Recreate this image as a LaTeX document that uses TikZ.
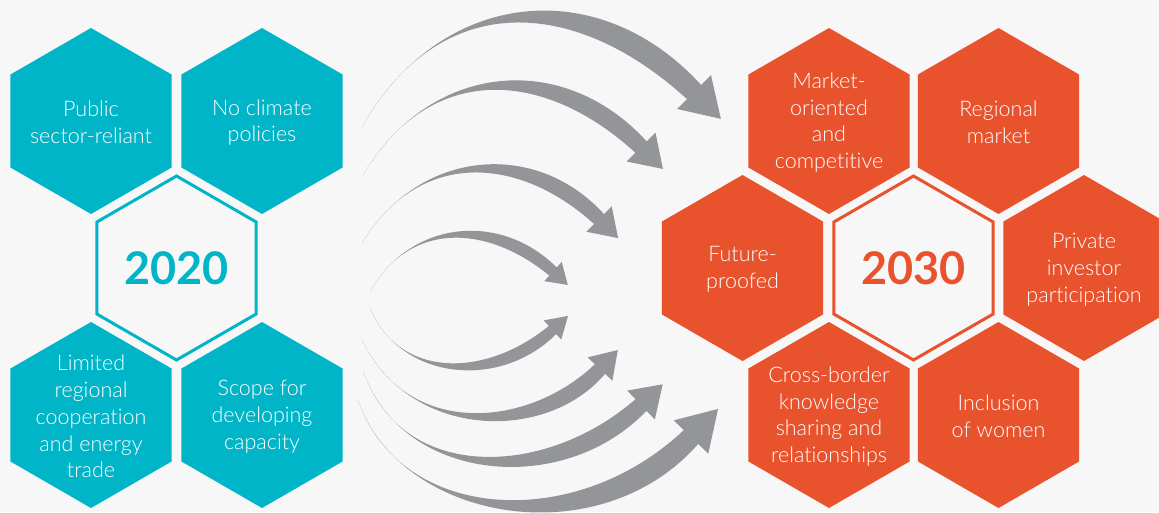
\documentclass[tikz,border=0pt]{standalone}
\usepackage{fontspec}
\setmainfont{Lato}[UprightFont=* Light, BoldFont=* Bold, Ligatures=NoCommon]
\usetikzlibrary{calc}
\definecolor{bgc}{HTML}{F7F7F7}
\definecolor{tealc}{HTML}{00B5C8}
\definecolor{orangec}{HTML}{E8522C}
\definecolor{arrowgray}{HTML}{949599}
\newcommand{\hexpath}[2]{(#1) +(90:#2) -- +(150:#2) -- +(210:#2) -- +(270:#2) -- +(330:#2) -- +(30:#2) -- cycle}
% tail, c1, c2, base, shaft half width, head half width, head length
\newcommand{\swoosh}[7]{%
  \fill[arrowgray] (#1) .. controls (#2) and ($(#3)!1.7*#5!90:(#4)$) .. ($(#4)!#5!-90:(#3)$)
    -- ($(#4)!#6!-90:(#3)$) -- ($(#4)!#7!180:(#3)$) -- ($(#4)!#6!90:(#3)$)
    -- ($(#4)!#5!90:(#3)$) .. controls ($(#3)!1.7*#5!-90:(#4)$) and (#2) .. (#1) -- cycle;}
\tikzset{
  wtxt/.style={text=white, align=center, inner sep=0pt, font=\fontsize{21.5}{26.8}\selectfont},
  yeartxt/.style={align=center, inner sep=0pt, font=\bfseries\fontsize{45}{50}\selectfont},
}
\begin{document}
\begin{tikzpicture}[x=1pt,y=-1pt]
\useasboundingbox (0,0) rectangle (1159,512);
\fill[bgc] (0,0) rectangle (1159,512);

% ---------- 2020 cluster ----------
\coordinate (a1) at (91,121);
\coordinate (a2) at (262,121);
\coordinate (a0) at (176.5,268);
\coordinate (a3) at (91,415);
\coordinate (a4) at (262,415);
\fill[tealc] \hexpath{a1}{93};
\fill[tealc] \hexpath{a2}{93};
\fill[tealc] \hexpath{a3}{93};
\fill[tealc] \hexpath{a4}{93};
\draw[tealc, line width=3pt] \hexpath{a0}{92};
\node[wtxt] (a1t) at ($(a1)+(0,1.5)$) {Public\\sector-reliant};
\node[wtxt] (a2t) at ($(a2)+(0,1.5)$) {No climate\\policies};
\node[wtxt] (a3t) at ($(a3)+(0,1.5)$) {Limited\\regional\\cooperation\\and energy\\trade};
\node[wtxt] (a4t) at ($(a4)+(0,1.5)$) {Scope for\\developing\\capacity};
\node[yeartxt, text=tealc] (a0t) at (a0) {2020};

% ---------- 2030 cluster ----------
\coordinate (b1) at (829,121);
\coordinate (b2) at (998.5,121);
\coordinate (b3) at (742.5,268);
\coordinate (b0) at (913.5,268);
\coordinate (b4) at (1084,268);
\coordinate (b5) at (829,415);
\coordinate (b6) at (998.5,415);
\fill[orangec] \hexpath{b1}{93};
\fill[orangec] \hexpath{b2}{93};
\fill[orangec] \hexpath{b3}{93};
\fill[orangec] \hexpath{b4}{93};
\fill[orangec] \hexpath{b5}{93};
\fill[orangec] \hexpath{b6}{93};
\draw[orangec, line width=3pt] \hexpath{b0}{92};
\node[wtxt] (b1t) at ($(b1)+(0,1.5)$) {Market-\\oriented\\and\\competitive};
\node[wtxt] (b2t) at ($(b2)+(0,1.5)$) {Regional\\market};
\node[wtxt] (b3t) at ($(b3)+(0,1.5)$) {Future-\\proofed};
\node[wtxt] (b4t) at ($(b4)+(0,1.5)$) {Private\\investor\\participation};
\node[wtxt] (b5t) at ($(b5)+(0,1.5)$) {Cross-border\\knowledge\\sharing and\\relationships};
\node[wtxt] (b6t) at ($(b6)+(0,1.5)$) {Inclusion\\of women};
\node[yeartxt, text=orangec] (b0t) at (b0) {2030};

% ---------- arrows ----------
\coordinate (t1) at (362,127); \coordinate (k1) at (440,-11); \coordinate (m1) at (586,-16); \coordinate (e1) at (694,92);
\coordinate (t2) at (363,175); \coordinate (k2) at (430,62);  \coordinate (m2) at (553,59);  \coordinate (e2) at (641,147);
\coordinate (t3) at (362,243); \coordinate (k3) at (420,148); \coordinate (m3) at (528,148); \coordinate (e3) at (599,219);
\coordinate (t4) at (370,292); \coordinate (k4) at (410,220); \coordinate (m4) at (494,218); \coordinate (e4) at (553,271.5);
\coordinate (t5) at (370,308); \coordinate (k5) at (400,380); \coordinate (m5) at (493,384); \coordinate (e5) at (552.5,330);
\coordinate (t6) at (362,340); \coordinate (k6) at (410,440); \coordinate (m6) at (538,435); \coordinate (e6) at (600,369);
\coordinate (t7) at (363,370); \coordinate (k7) at (400,482); \coordinate (m7) at (553,489); \coordinate (e7) at (641,405);
\coordinate (t8) at (358,400); \coordinate (k8) at (400,522); \coordinate (m8) at (587,545); \coordinate (e8) at (691,437);
\swoosh{t1}{k1}{m1}{e1}{10pt}{24pt}{38pt}
\swoosh{t2}{k2}{m2}{e2}{8pt}{20.5pt}{31pt}
\swoosh{t3}{k3}{m3}{e3}{7pt}{18pt}{27pt}
\swoosh{t4}{k4}{m4}{e4}{5.5pt}{13pt}{20pt}
\swoosh{t5}{k5}{m5}{e5}{5.5pt}{13pt}{21pt}
\swoosh{t6}{k6}{m6}{e6}{7pt}{17pt}{26pt}
\swoosh{t7}{k7}{m7}{e7}{8pt}{20pt}{30pt}
\swoosh{t8}{k8}{m8}{e8}{10pt}{24pt}{39pt}
\end{tikzpicture}
\end{document}
